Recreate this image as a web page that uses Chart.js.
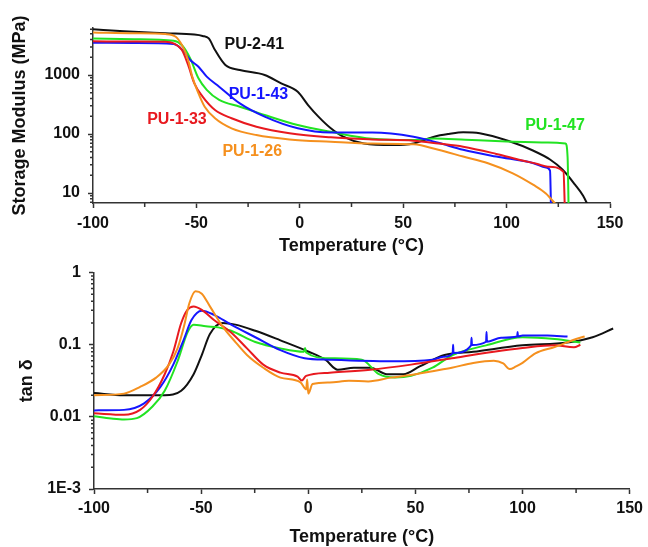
<!DOCTYPE html>
<html>
<head>
<meta charset="utf-8">
<script src="https://cdn.jsdelivr.net/npm/chart.js@4/dist/chart.umd.min.js"></script>
<style>
  body { margin: 0; background: #fff; }
  #wrap { position: relative; width: 648px; height: 547px; }
  canvas { position: absolute; left: 0; }
</style>
</head>
<body>
<div id="wrap">
  <canvas id="modulus" width="648" height="255" style="top:0"></canvas>
  <canvas id="tand" width="648" height="292" style="top:255px"></canvas>
</div>
<script>
// ---- storage modulus (MPa) vs temperature ----
const t241 = [-100, -85, -65, -51, -47, -44, -41, -36, -29, -17, -9, -1, 4, 9, 15, 21, 31, 45, 55, 65, 72, 79, 87, 101, 113, 121, 127, 133, 137, 139.5];
const e241 = [5950, 5500, 5100, 4850, 4600, 4170, 2650, 1480, 1215, 1000, 720, 520, 310, 197, 125, 90, 69, 65, 69, 90, 100, 107, 103, 76, 52, 37, 25, 14, 9, 6];
const t126 = [-100, -80, -65, -60, -57, -54, -52, -49, -46, -41, -33, -21, -5, 15, 35, 55, 67, 79, 91, 103, 113, 119, 124.5];
const e126 = [5280, 5100, 4950, 4460, 3220, 1800, 940, 490, 290, 185, 125, 96, 81, 74, 69, 67, 54, 41.5, 32, 21.6, 13.7, 9.8, 6];
const t133 = [-100, -80, -65, -61, -57, -54, -51, -47, -41, -33, -21, -5, 15, 35, 55, 67, 79, 95, 107, 115, 120, 127.5, 128.2];
const e133 = [3720, 3700, 3670, 3440, 2650, 1480, 720, 430, 255, 185, 133, 103, 88, 81, 77, 69, 61, 46, 36, 31, 28, 23, 5];
const t143 = [-100, -80, -61, -57, -53, -49, -45, -39, -29, -17, -1, 15, 35, 55, 67, 79, 95, 113, 119, 121, 121.5];
const e143 = [3530, 3480, 3360, 2720, 1800, 1385, 940, 635, 330, 197, 125, 106, 106, 90, 71, 54, 41.5, 32, 27, 24, 5];
const t147 = [-100, -80, -61, -57, -53, -49, -45, -39, -29, -17, -1, 15, 35, 55, 65, 80, 100, 120, 128.5, 129.5, 130];
const e147 = [4170, 4050, 3810, 3200, 1915, 880, 560, 378, 290, 210, 142, 109, 83, 79, 84, 80, 75, 72, 69, 40, 5];

// ---- tan delta vs temperature ----
const d241t = [-100, -86, -67, -59.3, -53.5, -49.7, -45.9, -40, -34, -24.7, -13, 0.2, 8, 13.7, 21.3, 29, 36.7, 44.4, 52, 63.6, 77, 100, 121, 132.7, 142.3];
const d241v = [0.0214, 0.020, 0.020, 0.023, 0.039, 0.072, 0.141, 0.20, 0.19, 0.156, 0.115, 0.08, 0.062, 0.045, 0.048, 0.048, 0.039, 0.039, 0.05, 0.072, 0.080, 0.098, 0.107, 0.127, 0.168];
const d126t = [-100, -86, -78.5, -71, -65, -61, -58, -55.5, -52.6, -49.7, -45.9, -40, -34, -28.6, -21, -13, -3.6, -1, -0.5, 0, 2, 10, 19, 28, 38.6, 48, 58, 67, 77, 86.6, 91, 94, 97, 100, 106, 115, 125, 129];
const d126v = [0.020, 0.021, 0.026, 0.035, 0.053, 0.089, 0.18, 0.376, 0.55, 0.51, 0.34, 0.18, 0.109, 0.072, 0.048, 0.035, 0.030, 0.024, 0.033, 0.021, 0.0285, 0.030, 0.0316, 0.031, 0.035, 0.038, 0.043, 0.048, 0.056, 0.06, 0.055, 0.046, 0.05, 0.056, 0.076, 0.093, 0.12, 0.13];
const d133t = [-100, -86, -78.5, -72.7, -67, -63, -59.3, -56.4, -53.5, -49.7, -44, -36, -28.6, -21, -13, -5, -3, -1, 10, 29, 48, 67, 86.6, 100, 115, 124, 127];
const d133v = [0.0112, 0.0107, 0.0125, 0.019, 0.039, 0.08, 0.20, 0.305, 0.34, 0.305, 0.22, 0.148, 0.089, 0.053, 0.041, 0.036, 0.032, 0.037, 0.041, 0.045, 0.053, 0.065, 0.08, 0.09, 0.098, 0.092, 0.1];
const d143t = [-100, -86, -76.6, -69, -63, -58, -54.5, -49.7, -44, -36, -24.7, -13, -1.7, 10, 38.6, 58, 63, 67.4, 67.6, 67.8, 76, 76.2, 76.4, 83, 83.2, 83.4, 90, 97.5, 97.7, 97.9, 100, 111.6, 121];
const d143v = [0.0123, 0.0125, 0.0154, 0.026, 0.053, 0.12, 0.22, 0.296, 0.26, 0.19, 0.127, 0.084, 0.065, 0.062, 0.059, 0.062, 0.068, 0.076, 0.1, 0.077, 0.098, 0.125, 0.099, 0.11, 0.15, 0.11, 0.125, 0.13, 0.15, 0.13, 0.134, 0.134, 0.13];
const d147t = [-100, -92, -86, -80, -72.7, -67, -61, -56.4, -53.5, -47.8, -42, -36, -24.7, -13, -2, -1.5, -1, 10, 25, 33, 40.5, 48, 58, 67.4, 83, 100, 115, 127];
const d147v = [0.0102, 0.0095, 0.0092, 0.0096, 0.0139, 0.023, 0.059, 0.148, 0.19, 0.18, 0.174, 0.156, 0.109, 0.089, 0.08, 0.09, 0.078, 0.065, 0.062, 0.039, 0.035, 0.037, 0.048, 0.072, 0.098, 0.127, 0.12, 0.107];

const xTickValues = [-100, -50, 0, 50, 100, 150];
const xMinorValues = [-75, -25, 25, 75, 125];
const modTickValues = [10, 100, 1000];
const tanTickValues = [1, 0.1, 0.01, 0.001];
const tanTickLabels = ["1", "0.1", "0.01", "1E-3"];

// curve labels in data coordinates of the top chart
const curveLabels = [
  { text: "PU-2-41", x: -22, y: 3220, color: "#111111" },
  { text: "PU-1-43", x: -20, y: 458, color: "#1515ff" },
  { text: "PU-1-33", x: -59.4, y: 173, color: "#e8191f" },
  { text: "PU-1-26", x: -23, y: 49.5, color: "#f5901e" },
  { text: "PU-1-47", x: 123.4, y: 137, color: "#22e322" }
];

const FONT = "'Liberation Sans', Arial, sans-serif";
Chart.defaults.font.family = FONT;
Chart.defaults.color = "#111";

function pts(xs, ys) {
  return xs.map((x, i) => ({ x: x, y: ys[i] }));
}

function series(label, xs, ys, color) {
  return {
    label: label,
    data: pts(xs, ys),
    borderColor: color,
    borderWidth: 2,
    pointRadius: 0,
    cubicInterpolationMode: "monotone",
    fill: false
  };
}

const minorTicks = {
  id: "minorTicks",
  afterDraw(chart) {
    const ctx = chart.ctx;
    const xs = chart.scales.x;
    const ys = chart.scales.y;
    ctx.save();
    ctx.strokeStyle = "#333";
    ctx.lineWidth = 1.5;
    ctx.beginPath();
    xMinorValues.forEach(v => {
      const px = xs.getPixelForValue(v);
      ctx.moveTo(px, xs.top);
      ctx.lineTo(px, xs.top + 4);
    });
    const lo = Math.floor(Math.log10(ys.min));
    const hi = Math.ceil(Math.log10(ys.max));
    for (let d = lo; d <= hi; d++) {
      for (let m = 2; m <= 9; m++) {
        const v = m * Math.pow(10, d);
        if (v < ys.min || v > ys.max) continue;
        const py = ys.getPixelForValue(v);
        ctx.moveTo(ys.right, py);
        ctx.lineTo(ys.right - 3, py);
      }
    }
    ctx.stroke();
    ctx.restore();
  }
};

const curveText = {
  id: "curveText",
  afterDatasetsDraw(chart) {
    if (chart.canvas.id !== "modulus") return;
    const ctx = chart.ctx;
    ctx.save();
    ctx.font = "bold 16px " + FONT;
    ctx.textAlign = "center";
    ctx.textBaseline = "middle";
    curveLabels.forEach(l => {
      ctx.fillStyle = l.color;
      ctx.fillText(l.text, chart.scales.x.getPixelForValue(l.x), chart.scales.y.getPixelForValue(l.y));
    });
    ctx.restore();
  }
};

function xScale(height, pad, titlePad) {
  return {
    type: "linear",
    min: -100,
    max: 150,
    afterBuildTicks: s => { s.ticks = xTickValues.map(v => ({ value: v })); },
    afterFit: s => { s.height = height; },
    ticks: { font: { size: 16, weight: "bold" }, padding: pad, maxRotation: 0 },
    grid: { drawOnChartArea: false, tickLength: 5, tickColor: "#333", tickWidth: 1.5 },
    border: { color: "#333", width: 1.5 },
    title: { display: true, text: "Temperature (°C)", font: { size: 18, weight: "bold", lineHeight: 1 }, padding: { top: 0, bottom: titlePad } }
  };
}

new Chart(document.getElementById("modulus"), {
  type: "line",
  data: {
    datasets: [
      series("PU-1-26", t126, e126, "#f5901e"),
      series("PU-1-33", t133, e133, "#e8191f"),
      series("PU-1-43", t143, e143, "#1515ff"),
      series("PU-1-47", t147, e147, "#22e322"),
      series("PU-2-41", t241, e241, "#111111")
    ]
  },
  options: {
    responsive: false,
    animation: false,
    layout: { padding: { top: 28, right: 38, left: 0, bottom: 0 } },
    plugins: { legend: { display: false }, tooltip: { enabled: false } },
    scales: {
      x: xScale(52, 6, 0),
      y: {
        type: "logarithmic",
        min: 6.77,
        max: 6270,
        afterBuildTicks: s => { s.ticks = modTickValues.map(v => ({ value: v })); },
        afterFit: s => { s.width = 93; },
        ticks: { font: { size: 16, weight: "bold" }, padding: 8, callback: v => String(v) },
        grid: { drawOnChartArea: false, tickLength: 5, tickColor: "#333", tickWidth: 1.5 },
        border: { color: "#333", width: 1.5 },
        title: { display: true, text: "Storage Modulus (MPa)", font: { size: 18, weight: "bold", lineHeight: 1 }, padding: { top: 11, bottom: 0 } }
      }
    }
  },
  plugins: [minorTicks, curveText]
});

new Chart(document.getElementById("tand"), {
  type: "line",
  data: {
    datasets: [
      series("PU-1-26", d126t, d126v, "#f5901e"),
      series("PU-1-33", d133t, d133v, "#e8191f"),
      series("PU-1-43", d143t, d143v, "#1515ff"),
      series("PU-1-47", d147t, d147v, "#22e322"),
      series("PU-2-41", d241t, d241v, "#111111")
    ]
  },
  options: {
    responsive: false,
    animation: false,
    layout: { padding: { top: 10, right: 15, left: 0, bottom: 0 } },
    plugins: { legend: { display: false }, tooltip: { enabled: false } },
    scales: {
      x: xScale(58, 5, 1),
      y: {
        type: "logarithmic",
        min: 0.001,
        max: 1,
        afterBuildTicks: s => { s.ticks = tanTickValues.map(v => ({ value: v })); },
        afterFit: s => { s.width = 94; },
        ticks: { font: { size: 16, weight: "bold" }, padding: 8, callback: (v, i) => tanTickLabels[i] },
        grid: { drawOnChartArea: false, tickLength: 5, tickColor: "#333", tickWidth: 1.5 },
        border: { color: "#333", width: 1.5 },
        title: { display: true, text: "tan δ", font: { size: 18, weight: "bold", lineHeight: 1 }, padding: { top: 18, bottom: 0 } }
      }
    }
  },
  plugins: [minorTicks]
});
</script>
</body>
</html>
